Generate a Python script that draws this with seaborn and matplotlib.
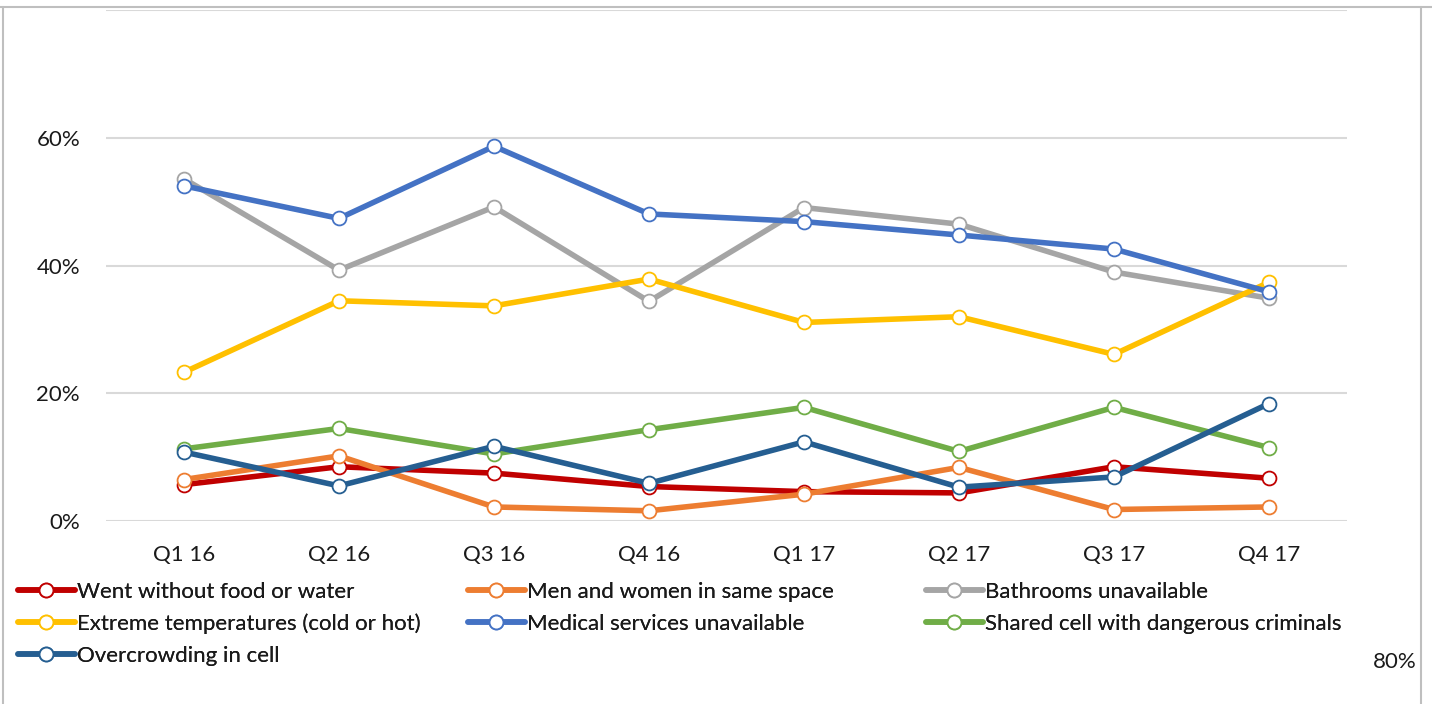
import matplotlib
matplotlib.use("Agg")
import matplotlib.pyplot as plt
from matplotlib.lines import Line2D
import seaborn as sns
import pandas as pd

quarters = ["Q1 16", "Q2 16", "Q3 16", "Q4 16", "Q1 17", "Q2 17", "Q3 17", "Q4 17"]

food_water = [5.7, 8.5, 7.5, 5.4, 4.6, 4.4, 8.5, 6.7]
men_women = [6.5, 10.2, 2.2, 1.6, 4.2, 8.4, 1.8, 2.2]
bathrooms = [53.6, 39.3, 49.2, 34.4, 49.1, 46.5, 39.0, 34.9]
temperatures = [23.3, 34.5, 33.7, 37.9, 31.1, 32.0, 26.1, 37.4]
medical = [52.5, 47.4, 58.7, 48.1, 46.9, 44.8, 42.6, 35.9]
shared_cell = [11.3, 14.5, 10.5, 14.3, 17.8, 10.9, 17.8, 11.5]
overcrowding = [10.8, 5.5, 11.7, 5.9, 12.4, 5.3, 6.9, 18.4]

series_names = [
    "Went without food or water",
    "Men and women in same space",
    "Bathrooms unavailable",
    "Extreme temperatures (cold or hot)",
    "Medical services unavailable",
    "Shared cell with dangerous criminals",
    "Overcrowding in cell",
]
series_values = [food_water, men_women, bathrooms, temperatures, medical, shared_cell, overcrowding]
colors = ["#C00000", "#ED7D31", "#A5A5A5", "#FFC000", "#4472C4", "#70AD47", "#255E91"]

y_ticks = [0, 20, 40, 60, 80]
y_tick_labels = ["0%", "20%", "40%", "60%", ""]

sns.set_theme(style="white")
plt.rcParams["font.family"] = ["Lato", "DejaVu Sans"]
text_color = "#1A1A1A"
fs = 16
LW = 4.0

W, H = 1432, 704
fig = plt.figure(figsize=(W / 100, H / 100), dpi=100)
ax = fig.add_axes([106.5 / W, 1 - 521 / H, 1240 / W, (521 - 10.3) / H])

rows = []
for name, vals in zip(series_names, series_values):
    for i, (q, v) in enumerate(zip(quarters, vals)):
        rows.append({"series": name, "pos": i, "quarter": q, "value": v})
df = pd.DataFrame(rows)

for name, col in zip(series_names, colors):
    sub = df[df["series"] == name]
    sns.lineplot(data=sub, x="pos", y="value", ax=ax, color=col, lw=LW,
                 marker="o", markersize=10, markerfacecolor="white",
                 markeredgecolor=col, markeredgewidth=1.3, legend=False,
                 solid_joinstyle="round", solid_capstyle="round", zorder=3)

ax.set_xlim(-0.5, len(quarters) - 0.5)
ax.set_ylim(0, 80)
ax.set_xticks(range(len(quarters)))
ax.set_xticklabels(quarters)
ax.set_yticks(y_ticks)
ax.set_yticklabels(y_tick_labels)
ax.set_xlabel("")
ax.set_ylabel("")
ax.grid(axis="y", color="#D9D9D9", lw=1.5, zorder=0)
ax.grid(axis="x", visible=False)
for s in ax.spines.values():
    s.set_visible(False)
ax.tick_params(axis="both", length=0, labelsize=fs, colors=text_color)
ax.tick_params(axis="x", pad=17)
ax.tick_params(axis="y", pad=19)

# legend: three columns placed as in the reference
def handle(col):
    return Line2D([], [], color=col, lw=LW, marker="o", markersize=10,
                  markerfacecolor="white", markeredgecolor=col, markeredgewidth=1.3)

col_groups = [[0, 3, 6], [1, 4], [2, 5]]
col_x = [18, 468, 926]
for grp, xpix in zip(col_groups, col_x):
    leg = fig.legend([handle(colors[i]) for i in grp], [series_names[i] for i in grp],
                     loc="upper left", bbox_to_anchor=(xpix / W, 1 - 582 / H),
                     frameon=False, fontsize=fs, handlelength=2.55, handletextpad=0.12,
                     labelspacing=0.52, borderpad=0, borderaxespad=0)
    for t in leg.get_texts():
        t.set_color(text_color)
    fig.add_artist(leg)

fig.text(1417 / W, 1 - 662 / H, "80%", ha="right", va="center", fontsize=fs, color=text_color)

border = "#BFBFBF"
fig.add_artist(Line2D([0, 1], [1 - 7 / H, 1 - 7 / H], transform=fig.transFigure, color=border, lw=1.5))
fig.add_artist(Line2D([3 / W, 3 / W], [0, 1 - 7 / H], transform=fig.transFigure, color=border, lw=1.5))
fig.add_artist(Line2D([1420.5 / W, 1420.5 / W], [0, 1 - 7 / H], transform=fig.transFigure, color=border, lw=1.5))

fig.savefig("out.png", dpi=100, facecolor="white")
